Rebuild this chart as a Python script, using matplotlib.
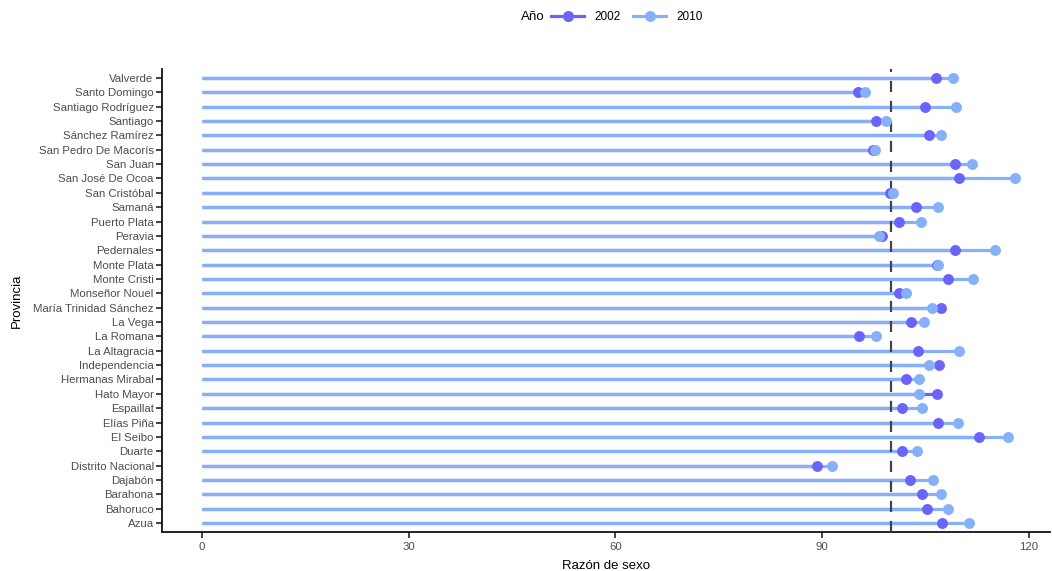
import matplotlib.pyplot as plt
from matplotlib.lines import Line2D

plt.rcParams["font.family"] = ["Liberation Sans", "DejaVu Sans"]

provincias = ["Azua", "Bahoruco", "Barahona", "Dajabón", "Distrito Nacional", "Duarte",
              "El Seibo", "Elías Piña", "Espaillat", "Hato Mayor", "Hermanas Mirabal",
              "Independencia", "La Altagracia", "La Romana", "La Vega",
              "María Trinidad Sánchez", "Monseñor Nouel", "Monte Cristi", "Monte Plata",
              "Pedernales", "Peravia", "Puerto Plata", "Samaná", "San Cristóbal",
              "San José De Ocoa", "San Juan", "San Pedro De Macorís", "Sánchez Ramírez",
              "Santiago", "Santiago Rodríguez", "Santo Domingo", "Valverde"]
r2002 = [107.4, 105.2, 104.6, 102.8, 89.3, 101.7, 112.8, 106.8, 101.6, 106.7, 102.2,
         107.0, 103.9, 95.4, 102.9, 107.3, 101.2, 108.3, 106.7, 109.3, 98.7, 101.2,
         103.6, 99.9, 109.9, 109.3, 97.4, 105.5, 97.8, 104.9, 95.2, 106.5]
r2010 = [111.3, 108.3, 107.3, 106.2, 91.4, 103.8, 117.0, 109.7, 104.6, 104.1, 104.1,
         105.5, 109.9, 97.8, 104.8, 106.0, 102.2, 112.0, 106.8, 115.1, 98.3, 104.4,
         106.8, 100.3, 118.1, 111.8, 97.7, 107.3, 99.3, 109.4, 96.2, 109.0]
anios = ["2002", "2010"]
colores = ["#6C63FA", "#86B0F8"]

fig = plt.figure(figsize=(10.52, 5.71), dpi=100)
ax = fig.add_axes([0.154, 0.069, 0.844, 0.8095])

y = list(range(len(provincias)))
ax.hlines(y, 0, r2002, color=colores[0], lw=2.3, zorder=2)
ax.hlines(y, 0, r2010, color=colores[1], lw=2.3, zorder=3)
ax.axvline(100, color="#444444", lw=1.6, ls=(0, (5, 4)), zorder=4)
ax.scatter(r2002, y, s=62, color=colores[0], zorder=5, linewidths=0)
ax.scatter(r2010, y, s=62, color=colores[1], zorder=6, linewidths=0)

ax.set_xlim(-5.8, 123.1)
ax.set_ylim(-0.6, len(provincias) - 0.4)
ax.set_xticks([0, 30, 60, 90, 120])
ax.set_yticks(y)
ax.set_yticklabels(provincias)
ax.tick_params(axis="both", labelsize=8.2, labelcolor="#4D4D4D", color="#222222",
               length=4, width=1.2, pad=2)
ax.tick_params(axis="x", pad=3.5)
for s in ["top", "right"]:
    ax.spines[s].set_visible(False)
for s in ["left", "bottom"]:
    ax.spines[s].set_linewidth(1.3)
    ax.spines[s].set_color("#111111")
ax.set_xlabel("Razón de sexo", fontsize=9.5, labelpad=6)
ax.set_ylabel("Provincia", fontsize=9.5, labelpad=7.5)

# leyenda arriba: titulo a la izquierda de las entradas
handles = [Line2D([], [], color=c, lw=2.3, marker="o", markersize=8, markeredgewidth=0)
           for c in colores]
fig.text(545 / 1052, 1 - 17 / 571, "Año", fontsize=9.5, ha="right", va="center")
fig.legend(handles, anios, loc="center left", bbox_to_anchor=(551 / 1052, 1 - 17 / 571),
           ncol=2, frameon=False, fontsize=8.5, handlelength=2.8, borderpad=0,
           borderaxespad=0, columnspacing=1.1, handletextpad=0.85)

fig.savefig("out.png", dpi=100)
